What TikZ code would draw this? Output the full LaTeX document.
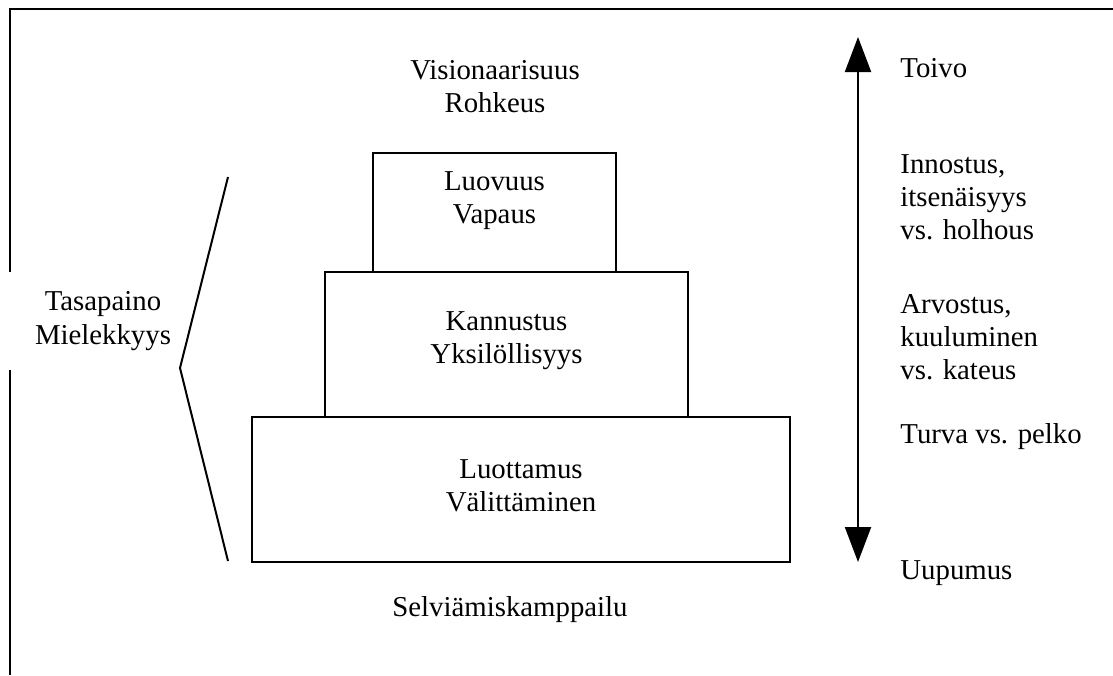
\documentclass[tikz,border=0pt]{standalone}
\usepackage{fontspec}
\setmainfont{Liberation Serif}
\usetikzlibrary{arrows.meta,positioning}
\tikzset{
  level/.style={rectangle,draw,line width=1pt,inner sep=0pt},
  txt/.style={align=center,inner sep=0pt,font=\fontsize{14.4}{16.6}\selectfont},
  side/.style={align=left,anchor=west,inner sep=0pt,font=\fontsize{14.4}{16.6}\selectfont},
  dbl/.style={{Triangle[width=13pt,length=17.5pt]}-{Triangle[width=13pt,length=17.5pt]},line width=1pt}
}
\begin{document}
\begin{tikzpicture}[x=0.5pt,y=-0.5pt]
  \useasboundingbox (0,0) rectangle (1113,675);
  % frame, cut by the page at right and bottom
  \draw[line width=1pt] (10,675) -- (10,370);
  \draw[line width=1pt] (10,272) -- (10,9) -- (1113,9);
  % the three levels
  \node[level,minimum width=243pt*0.5,minimum height=119pt*0.5] (luovuus) at (494.5,212.5) {};
  \node[level,minimum width=363pt*0.5,minimum height=145pt*0.5] (kannustus) at (506.5,344.5) {};
  \node[level,minimum width=538pt*0.5,minimum height=145pt*0.5] (luottamus) at (521,489.5) {};
  \node[txt] (tLuo) at (494.5,201) {Luovuus\\Vapaus};
  \node[txt] (tKan) at (506.5,341) {Kannustus\\Yksilöllisyys};
  \node[txt] (tLuot) at (521,486) {Luottamus\\Välittäminen};
  \node[txt] (vision) at (495,87) {Visionaarisuus\\Rohkeus};
  \node[txt] (selv) at (510,610) {Selviämiskamppailu};
  % bracket on the left
  \node[txt] (tasa) at (103,321) {Tasapaino\\Mielekkyys};
  \draw[line width=1pt] (228,177) -- (180,368) -- (228,561);
  % scale on the right
  \coordinate (hi) at (858,37);
  \coordinate (lo) at (858,562);
  \draw[dbl] (lo) -- (hi);
  \node[side] (toivo) at (900,68) {Toivo};
  \node[side] (innostus) at (900,197) {Innostus,\\itsenäisyys\\vs. holhous};
  \node[side] (arvostus) at (900,337) {Arvostus,\\kuuluminen\\vs. kateus};
  \node[side] (turva) at (900,437) {Turva vs. pelko};
  \node[side] (uupumus) at (900,573) {Uupumus};
\end{tikzpicture}
\end{document}
